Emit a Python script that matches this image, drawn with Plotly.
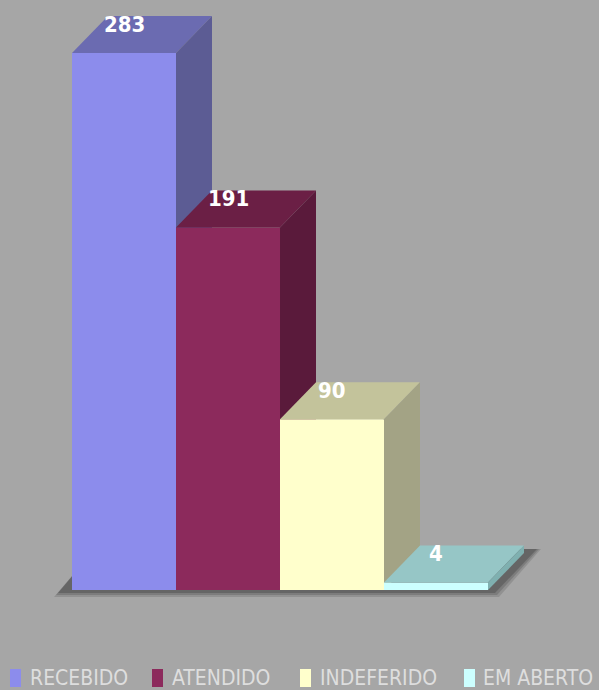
import plotly.graph_objects as go

categories = ["RECEBIDO", "ATENDIDO", "INDEFERIDO", "EM ABERTO"]
values = [283, 191, 90, 4]

front_colors = ["#8c8cec", "#8c2a5c", "#ffffcc", "#ccffff"]
top_colors = ["#6b6bb1", "#6b1f45", "#c3c39b", "#96c6c6"]
side_colors = ["#5c5c94", "#5a1a3b", "#a3a385", "#7fb0b0"]

W, H = 599, 690
PX_X0, PX_PER_X = 72.0, 104.0        # pixel of x=0, pixels per bar
PX_Y0, PX_PER_Y = 590.0, 537.0 / 283  # pixel of y=0, pixels per unit
DX = 36 / PX_PER_X
DY = 37 / PX_PER_Y

FONT = "Liberation Sans Narrow, DejaVu Sans Condensed, Arial Narrow, sans-serif"

fig = go.Figure()

def poly(xs, ys, color, opacity=1.0):
    fig.add_trace(go.Scatter(
        x=xs + [xs[0]], y=ys + [ys[0]], mode="lines", fill="toself",
        fillcolor=color, line=dict(width=0, color=color), opacity=opacity,
        hoverinfo="skip", showlegend=False))

# floor shadow (soft, layered)
n = len(values)
for gx, gy, a in [(5, 4, 0.12), (3, 2, 0.14), (1, 0, 0.18)]:
    ex, ey = gx / PX_PER_X, gy / PX_PER_Y
    sx = -13 / PX_PER_X
    sy = -3 / PX_PER_Y
    xs = [sx - ex, n + 6 / PX_PER_X + ex, n + DX + 12 / PX_PER_X + ex, DX + sx]
    ys = [sy - ey, sy - ey, DY + 4 / PX_PER_Y, DY + 4 / PX_PER_Y]
    poly(xs, ys, f"rgba(0,0,0,{a})")

for i, v in enumerate(values):
    # front
    poly([i, i + 1, i + 1, i], [0, 0, v, v], front_colors[i])
    # top
    poly([i, i + 1, i + 1 + DX, i + DX], [v, v, v + DY, v + DY], top_colors[i])
    # side
    poly([i + 1, i + 1 + DX, i + 1 + DX, i + 1], [0, DY, v + DY, v], side_colors[i])
    fig.add_annotation(x=i + 0.5, y=v, yshift=29, text=f"<b>{v}</b>", showarrow=False,
                       font=dict(family=FONT, size=22, color="white"),
                       xanchor="center", yanchor="middle")

# legend (manual)
sq_left = [10, 152, 300, 464]
txt_left = [28, 170, 318, 481]
for i, c in enumerate(categories):
    fig.add_shape(type="rect", xref="paper", yref="paper",
                  x0=sq_left[i] / W, x1=(sq_left[i] + 11) / W,
                  y0=(H - 687) / H, y1=(H - 669) / H,
                  fillcolor=front_colors[i], line=dict(width=0))
    fig.add_annotation(xref="paper", yref="paper", x=txt_left[i] / W, y=(H - 678) / H,
                       text=c, showarrow=False, xanchor="left", yanchor="middle",
                       font=dict(family=FONT, size=21, color="#dedede"))

fig.update_layout(
    width=W, height=H, margin=dict(l=0, r=0, t=0, b=0),
    paper_bgcolor="#a6a6a6", plot_bgcolor="#a6a6a6", showlegend=False,
    xaxis=dict(range=[-PX_X0 / PX_PER_X, (W - PX_X0) / PX_PER_X], visible=False, fixedrange=True),
    yaxis=dict(range=[-(H - PX_Y0) / PX_PER_Y, PX_Y0 / PX_PER_Y], visible=False, fixedrange=True),
)

fig.write_html("out.html")
